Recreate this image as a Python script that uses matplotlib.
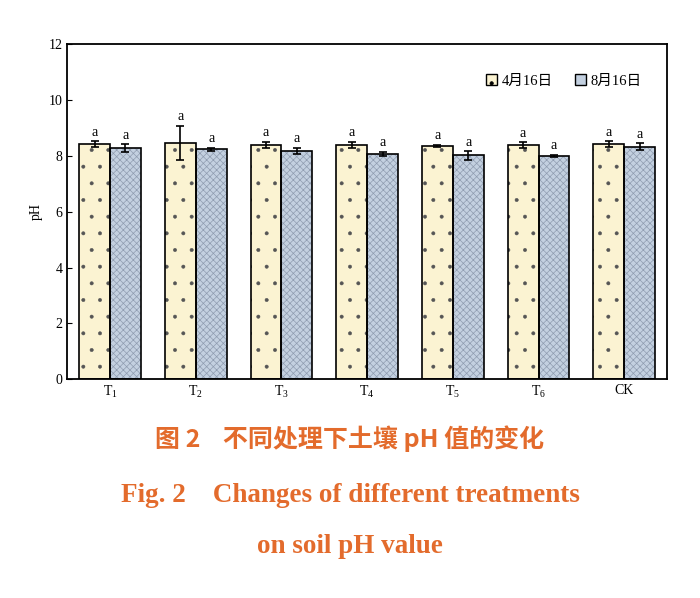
import matplotlib.pyplot as plt
import numpy as np

groups = ['$\\mathrm{T_1}$', '$\\mathrm{T_2}$', '$\\mathrm{T_3}$', '$\\mathrm{T_4}$',
          '$\\mathrm{T_5}$', '$\\mathrm{T_6}$', 'CK']
apr = [8.42, 8.47, 8.40, 8.40, 8.36, 8.38, 8.42]
apr_err = [0.10, 0.60, 0.10, 0.10, 0.04, 0.10, 0.10]
aug = [8.28, 8.23, 8.18, 8.07, 8.02, 8.00, 8.33]
aug_err = [0.13, 0.07, 0.10, 0.08, 0.15, 0.03, 0.12]
letters_apr = ['a'] * 7
letters_aug = ['a'] * 7

serif = ['Liberation Serif', 'Noto Sans CJK SC']
plt.rcParams['font.family'] = serif
plt.rcParams['mathtext.fontset'] = 'custom'
plt.rcParams['mathtext.rm'] = 'Liberation Serif'

fig = plt.figure(figsize=(7, 5.98), dpi=100)
ax = fig.add_axes([0.096, 0.366, 0.857, 0.560])

x = np.arange(len(groups))
w = 0.36
# hatched fills (light pattern colour), then black outlines and error bars on top
plt.rcParams['hatch.linewidth'] = 0.35
ax.bar(x - w / 2, apr, w, color='#fbf3d2', edgecolor='#555555', hatch='.', linewidth=0)
plt.rcParams['hatch.linewidth'] = 0.5
ax.bar(x + w / 2, aug, w, color='#c3d0e0', edgecolor='#8f9cb0', hatch='xxxxx', linewidth=0)
ax.bar(x - w / 2, apr, w, yerr=apr_err, fill=False, edgecolor='black', linewidth=1.2,
       capsize=3, error_kw=dict(elinewidth=1.2, capthick=1.2))
ax.bar(x + w / 2, aug, w, yerr=aug_err, fill=False, edgecolor='black', linewidth=1.2,
       capsize=3, error_kw=dict(elinewidth=1.2, capthick=1.2))
for i in range(len(groups)):
    ax.text(x[i] - w / 2, apr[i] + apr_err[i] + 0.2, letters_apr[i], ha='center', fontsize=10)
    ax.text(x[i] + w / 2, aug[i] + aug_err[i] + 0.2, letters_aug[i], ha='center', fontsize=10)

from matplotlib.patches import Patch
handles = [Patch(facecolor='#fbf3d2', edgecolor='black', hatch='.', label='4月16日'),
           Patch(facecolor='#c3d0e0', edgecolor='black', label='8月16日')]

ax.set_xlim(-0.5, len(groups) - 0.5)
ax.set_ylim(0, 12)
ax.set_yticks(range(0, 13, 2))
ax.set_xticks(x)
ax.set_xticklabels(groups, fontsize=10)
ax.tick_params(axis='y', labelsize=10, direction='in')
ax.tick_params(axis='x', length=0)
ax.set_ylabel('pH', fontsize=10)
for s in ax.spines.values():
    s.set_linewidth(1.3)
ax.legend(handles=handles, loc='upper right', ncol=2, frameon=False, fontsize=10.5,
          handlelength=0.8, handleheight=0.8, columnspacing=1.5, handletextpad=0.3,
          bbox_to_anchor=(0.98, 0.95))

orange = '#e36b2c'
cjk = ['Noto Sans CJK SC', 'Liberation Serif']
fig.text(0.5, 0.252, '图 2    不同处理下土壤 pH 值的变化', ha='center', fontsize=18,
         color=orange, family=cjk, fontweight='bold')
fig.text(0.5, 0.16, 'Fig. 2    Changes of different treatments', ha='center', fontsize=19.5,
         color=orange, fontweight='bold')
fig.text(0.5, 0.075, 'on soil pH value', ha='center', fontsize=19.5,
         color=orange, fontweight='bold')

fig.savefig('out.png', dpi=100)
